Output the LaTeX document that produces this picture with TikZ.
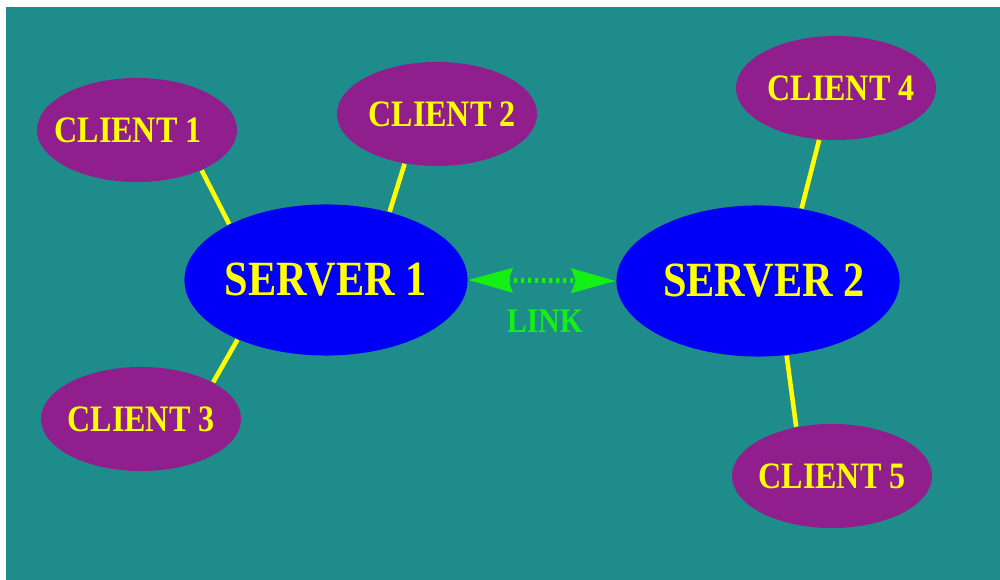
\documentclass[tikz,border=0pt]{standalone}
\usepackage{fontspec}
\setmainfont[FakeStretch=0.86]{Liberation Serif}
\usepackage{tikz}
\usetikzlibrary{shapes.geometric, arrows.meta}
\definecolor{bgteal}{RGB}{31, 140, 140}
\definecolor{clientpurple}{RGB}{144, 30, 140}
\definecolor{serverblue}{RGB}{0, 0, 250}
\definecolor{wireyellow}{RGB}{255, 255, 0}
\definecolor{linkgreen}{RGB}{20, 240, 20}
\newcommand{\tagtext}[2][0cm]{\makebox[0pt]{\hspace*{#1}#2}}

\begin{document}
\begin{tikzpicture}[
  x=0.01cm, y=-0.01cm,
  client/.style={ellipse, fill=clientpurple, inner sep=0pt, minimum width=2cm, minimum height=1.04cm,
    text=wireyellow, font=\fontsize{10.6}{12}\selectfont\bfseries},
  server/.style={ellipse, fill=serverblue, inner sep=0pt, minimum width=2.83cm, minimum height=1.51cm,
    text=wireyellow, font=\fontsize{14}{16}\selectfont\bfseries},
  wire/.style={draw=wireyellow, line width=1.3pt},
  link/.style={draw=linkgreen, line width=1.4pt, dash pattern=on 0.9pt off 1.1pt,
    {Stealth[length=0.44cm, width=0.24cm, inset=0.04cm]}-{Stealth[length=0.44cm, width=0.24cm, inset=0.04cm]}}
]
  \useasboundingbox (0,0) rectangle (1000,580);
  \fill[bgteal] (6,7) rectangle (1000,580);

  \node[server] (s1) at (326,280) {\tagtext{SERVER 1}};
  \node[server] (s2) at (758,281) {\tagtext[0.12cm]{SERVER 2}};
  \node[client] (c1) at (137,130) {\tagtext[-0.18cm]{CLIENT 1}};
  \node[client] (c2) at (437,114) {\tagtext[0.1cm]{CLIENT 2}};
  \node[client] (c3) at (141,419) {\tagtext{CLIENT 3}};
  \node[client] (c4) at (836,88) {\tagtext[0.1cm]{CLIENT 4}};
  \node[client] (c5) at (832,476) {\tagtext{CLIENT 5}};

  % wires to the servers
  \draw[wire] (c1.-32) -- (s1.150);
  \draw[wire] (c2.-123) -- (s1.47);
  \draw[wire] (c3.27) -- (s1.-146);
  \draw[wire] (c4.-108) -- (s2.59);
  \draw[wire] (c5.126) -- (s2.-69);

  \draw[link] (s1.east) -- (s2.west);
  \node[text=linkgreen, font=\fontsize{9.8}{11}\selectfont\bfseries] (lbl) at (545,321) {LINK};
\end{tikzpicture}
\end{document}
